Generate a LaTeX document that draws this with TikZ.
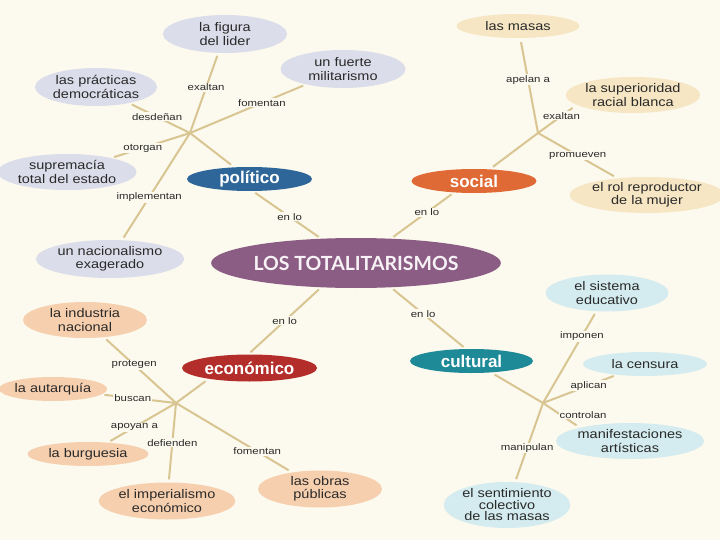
\documentclass[tikz,border=0pt]{standalone}
\usepackage{fontspec}
\setmainfont{Liberation Sans}
\newfontfamily\leaffam[FakeStretch=1.16]{Liberation Sans}
\newfontfamily\lblfam[FakeStretch=1.2]{Liberation Sans}
\newfontfamily\titlefam{Lato}
\usetikzlibrary{shapes.geometric}
\definecolor{bg}{HTML}{FCFAEE}
\definecolor{conn}{HTML}{D8C592}
\definecolor{cpurple}{HTML}{8B5C84}
\definecolor{cblue}{HTML}{2F6699}
\definecolor{corange}{HTML}{E06A35}
\definecolor{cred}{HTML}{B32E2A}
\definecolor{cteal}{HTML}{1E8A98}
\definecolor{flav}{HTML}{DCDDEA}
\definecolor{fbeige}{HTML}{F6E6C4}
\definecolor{fpeach}{HTML}{F6CFAE}
\definecolor{fcyan}{HTML}{D4ECEF}
\definecolor{txt}{HTML}{2A2A2A}
\tikzset{
  leaf/.style={ellipse, inner sep=0pt, minimum width=123, minimum height=36,
    align=center, text=txt, font=\leaffam\fontsize{12.5}{13.5}\selectfont},
  leafone/.style={leaf, minimum height=24},
  catnode/.style={ellipse, inner sep=0pt, minimum width=124, minimum height=24,
    text=white, font=\bfseries\fontsize{17}{18}\selectfont},
  conline/.style={draw=conn, line width=2pt},
  lbl/.style={fill=bg, inner sep=1pt, text=txt, font=\lblfam\fontsize{9.5}{10}\selectfont},
}
\begin{document}
\begin{tikzpicture}[x=1pt,y=-1pt]
\fill[bg] (0,0) rectangle (720,540);
\useasboundingbox (0,0) rectangle (720,540);

% central
\node[ellipse, fill=cpurple, minimum width=247, minimum height=50, inner sep=0pt,
  text=white!92!cpurple, font=\titlefam\bfseries\fontsize{19.5}{20}\selectfont] (main) at (356,263) {LOS TOTALITARISMOS};

% categories
\node[catnode, fill=cblue, minimum width=125] (pol) at (249.5,179) {político};
\node[catnode, fill=corange, minimum width=125] (soc) at (474,181) {social};
\node[catnode, fill=cred, minimum width=135, minimum height=27] (eco) at (249.5,368) {económico};
\node[catnode, fill=cteal, minimum width=123] (cul) at (471.5,361) {cultural};

% political leaves
\node[leaf, fill=flav, minimum width=124, minimum height=38] (lider) at (225,34) {la figura\\del lider};
\node[leaf, fill=flav, minimum width=125, minimum height=38] (milit) at (343,69) {un fuerte\\militarismo};
\node[leaf, fill=flav, minimum width=122, minimum height=38] (pract) at (96,87) {las prácticas\\democráticas};
\node[leaf, fill=flav, minimum width=121] (supre) at (67,172) {supremacía\\total del estado};
\node[leaf, fill=flav, minimum width=120, minimum height=38] (nacio) at (110,259) {un nacionalismo\\exagerado};

% social leaves
\node[leafone, fill=fbeige, minimum width=123] (masas) at (518,26) {las masas};
\node[leaf, fill=fbeige, minimum width=123] (racial) at (633,95) {la superioridad\\racial blanca};
\node[leaf, fill=fbeige, minimum width=120] (rol) at (647,195) {el rol reproductor\\de la mujer};

% economic leaves
\node[leaf, fill=fpeach, minimum width=124] (indus) at (85,320) {la industria\\nacional};
\node[leafone, fill=fpeach, minimum width=93] (autar) at (53,389) {la autarquía};
\node[leafone, fill=fpeach, minimum width=121] (burgu) at (88,454) {la burguesia};
\node[leaf, fill=fpeach, minimum width=125, minimum height=37] (imper) at (167,501) {el imperialismo\\económico};
\node[leaf, fill=fpeach, minimum width=124, minimum height=37] (obras) at (320,489) {las obras\\públicas};

% cultural leaves
\node[leaf, fill=fcyan, minimum width=123, minimum height=37] (educ) at (607,293) {el sistema\\educativo};
\node[leafone, fill=fcyan, minimum width=124] (censu) at (645,364) {la censura};
\node[leaf, fill=fcyan, minimum width=124] (manif) at (630,441) {manifestaciones\\artísticas};
\node[leaf, fill=fcyan, minimum width=123, minimum height=46,
  font=\leaffam\fontsize{12.5}{11.5}\selectfont] (senti) at (507,505) {el sentimiento\\colectivo\\de las masas};

% hubs
\coordinate (hp) at (190,133);
\coordinate (hs) at (538,133);
\coordinate (he) at (176,403);
\coordinate (hc) at (543,403);

% en lo connectors
\draw[conline, shorten <=3pt, shorten >=3pt] (pol.-75) -- node[lbl, pos=0.54]{en lo} (main.145);
\draw[conline, shorten <=3pt, shorten >=3pt] (soc.210) -- node[lbl, pos=0.43]{en lo} (main.35);
\draw[conline, shorten <=3pt, shorten >=3pt] (eco.95) -- node[lbl, pos=0.5]{en lo} (main.215);
\draw[conline, shorten <=3pt, shorten >=3pt] (main.325) -- node[lbl, pos=0.43]{en lo} (cul.115);

% political
\draw[conline, shorten >=4pt] (hp) -- (pol);
\draw[conline, shorten >=3pt] (hp) -- node[lbl, pos=0.57]{exaltan} (lider);
\draw[conline, shorten >=3pt] (hp) -- node[lbl, pos=0.62]{fomentan} (milit);
\draw[conline, shorten >=3pt] (hp) -- node[lbl, pos=0.54]{desdeñan} (pract);
\draw[conline, shorten >=3pt] (hp) -- node[lbl, pos=0.6]{otorgan} (supre);
\draw[conline, shorten >=3pt] (hp) -- node[lbl, pos=0.6]{implementan} (nacio);

% social
\draw[conline, shorten >=4pt] (hs) -- (soc);
\draw[conline, shorten >=4pt] (hs) -- node[lbl, pos=0.56]{apelan a} (masas);
\draw[conline, shorten >=5pt] (hs) -- node[lbl, pos=0.61]{exaltan} (racial.190);
\draw[conline, shorten >=4pt] (hs) -- node[lbl, pos=0.5]{promueven} (rol);

% economic
\draw[conline, shorten >=4pt] (he) -- (eco.195);
\draw[conline, shorten >=3pt] (he) -- node[lbl, pos=0.58]{protegen} (indus);
\draw[conline, shorten >=3pt] (he) -- node[lbl, pos=0.58]{buscan} (autar);
\draw[conline, shorten >=3pt] (he) -- node[lbl, pos=0.61]{apoyan a} (burgu);
\draw[conline, shorten >=3pt] (he) -- node[lbl, pos=0.5]{defienden} (imper);
\draw[conline, shorten >=4pt] (he) -- node[lbl, pos=0.7]{fomentan} (obras);

% cultural
\draw[conline, shorten >=4pt] (hc) -- (cul);
\draw[conline, shorten >=3pt] (hc) -- node[lbl, pos=0.73]{imponen} (educ);
\draw[conline, shorten >=3pt] (hc) -- node[lbl, pos=0.62]{aplican} (censu);
\draw[conline, shorten >=4pt] (hc) -- (manif.165);
\node[lbl] (lctrl) at (583,415) {controlan};
\draw[conline, shorten >=3pt] (hc) -- node[lbl, pos=0.57]{manipulan} (senti);
\end{tikzpicture}
\end{document}
